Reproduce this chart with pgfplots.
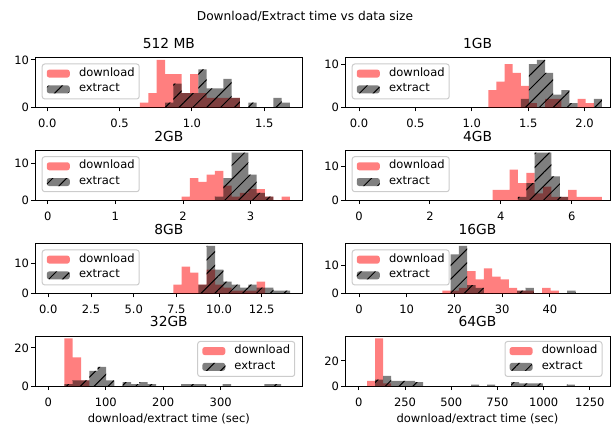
\documentclass[border=0pt]{standalone}
\usepackage{fontspec}
\setmainfont{DejaVu Sans}
\usepackage{pgfplots}
\pgfplotsset{compat=1.18}
\usetikzlibrary{patterns.meta}
\pgfplotsset{
 histleg/.style={legend image code/.code={\path[##1] (0pt,-4pt) rectangle (23pt,4pt);}},
 dl/.style={ybar interval, draw=none, fill=red, fill opacity=0.5, histleg},
 ex/.style={ybar interval, draw=none, fill=black, fill opacity=0.5,
   postaction={pattern={Lines[angle=45,distance=9.8pt,line width=1pt]}, pattern color=black, fill opacity=1}, histleg},
 hist/.style={anchor=south west, scale only axis, height=50pt, ymin=0,
   tick pos=left, tick align=outside, major tick length=4pt,
   tick style={black, line width=0.9pt}, axis line style={line width=0.9pt},
   ticklabel style={font=\fontsize{11.5}{13.8}\selectfont},
   xticklabel style={yshift=-4pt}, yticklabel style={xshift=1.5pt},
   title style={font=\fontsize{13.8}{16}\selectfont, at={(0.5,1)}, anchor=base, yshift=3pt},
   legend cell align=left,
   legend style={draw=black!20, line width=1pt, rounded corners=2.5pt, fill=white, fill opacity=0.8, text opacity=1, draw opacity=1,
     font=\fontsize{11.5}{13.8}\selectfont, inner xsep=4.6pt, inner ysep=4.6pt, row sep=5.75pt, column sep=9.2pt,
     nodes={inner sep=0pt, text height=0.75em, text depth=0.25em}},
   xlabel style={font=\fontsize{11.5}{13.8}\selectfont, yshift=-0.5pt}},
 lul/.style={legend style={at={(0,1)}, anchor=north west, xshift=6.7pt, yshift=-6pt}},
 lur/.style={legend style={at={(1,1)}, anchor=north east, xshift=-7.5pt, yshift=-5pt}},
}
\begin{document}
\begin{tikzpicture}
\useasboundingbox (0,0) rectangle (612pt,425pt);
\node[font=\fontsize{12.2}{14}\selectfont, anchor=base] at (305pt,404pt) {Download/Extract time vs data size};

% 512 MB
\begin{axis}[hist, lul, at={(35pt,317.5pt)}, width=267.7pt, title={512 MB},
  xmin=-0.085, xmax=1.766, ymax=10.5, xtick={0,0.5,1,1.5}, xticklabels={0.0,0.5,1.0,1.5},
  ytick={0,10}, yticklabels={0,10}]
\addplot[dl] coordinates {(0.641,1)(0.699,3)(0.756,10)(0.814,7)(0.871,7)(0.929,3)(0.987,7)(1.044,3)(1.102,2)(1.159,2)(1.217,2)(1.275,2)(1.332,0)};
\addplot[ex] coordinates {(0.814,1)(0.871,5)(0.929,3)(0.987,3)(1.044,8)(1.102,4)(1.159,4)(1.217,6)(1.275,2)(1.332,0)(1.390,1)(1.447,0)(1.505,0)(1.563,2)(1.620,1)(1.678,0)};
\legend{download,extract}
\end{axis}

% 1GB
\begin{axis}[hist, lul, at={(345pt,317.5pt)}, width=265pt, title={1GB},
  xmin=-0.124, xmax=2.225, ymax=11.55, xtick={0,0.5,1,1.5,2}, xticklabels={0.0,0.5,1.0,1.5,2.0},
  ytick={0,10}, yticklabels={0,10}]
\addplot[dl] coordinates {(1.146,4)(1.218,6)(1.290,10)(1.362,8)(1.434,5)(1.506,1)(1.577,0)(1.649,2)(1.721,2)(1.793,0)(1.865,0)(1.937,2)(2.009,1)(2.081,0)};
\addplot[ex] coordinates {(1.434,2)(1.506,10)(1.577,11)(1.649,8)(1.721,3)(1.793,4)(1.865,1)(1.937,0)(2.009,0)(2.081,2)(2.153,0)};
\legend{download,extract}
\end{axis}

% 2GB
\begin{axis}[hist, lul, at={(35pt,224.8pt)}, width=267.7pt, title={2GB},
  xmin=-0.188, xmax=3.77, ymax=13.65, xtick={0,1,2,3}, xticklabels={0,1,2,3},
  ytick={0,10}, yticklabels={0,10}]
\addplot[dl] coordinates {(1.980,1)(2.103,6)(2.226,5)(2.350,7)(2.473,8)(2.596,4)(2.719,1)(2.842,2)(2.966,3)(3.089,3)(3.212,1)(3.335,0)(3.458,1)(3.582,0)};
\addplot[ex] coordinates {(2.473,1)(2.596,6)(2.719,13)(2.842,13)(2.966,7)(3.089,2)(3.212,1)(3.335,0)};
\legend{download,extract}
\end{axis}

% 4GB
\begin{axis}[hist, lul, at={(345pt,224.8pt)}, width=265pt, title={4GB},
  xmin=-0.395, xmax=7.08, ymax=14.7, xtick={0,2,4,6}, xticklabels={0,2,4,6},
  ytick={0,10}, yticklabels={0,10}]
\addplot[dl] coordinates {(3.772,3)(4.009,3)(4.245,9)(4.482,5)(4.718,8)(4.955,2)(5.192,4)(5.428,1)(5.665,1)(5.902,3)(6.138,1)(6.375,1)(6.611,1)(6.848,0)};
\addplot[ex] coordinates {(4.482,1)(4.718,5)(4.955,14)(5.192,14)(5.428,7)(5.665,1)(5.902,0)};
\legend{download,extract}
\end{axis}

% 8GB
\begin{axis}[hist, lul, at={(35pt,131.5pt)}, width=267.7pt, title={8GB},
  xmin=-0.78, xmax=14.9, ymax=16.8, xtick={0,2.5,5,7.5,10,12.5}, xticklabels={0.0,2.5,5.0,7.5,10.0,12.5},
  ytick={0,10}, yticklabels={0,10}]
\addplot[dl] coordinates {(7.324,3)(7.812,9)(8.300,7)(8.788,3)(9.276,8)(9.764,3)(10.252,2)(10.740,1)(11.228,1)(11.716,1)(12.204,4)(12.692,0)};
\addplot[ex] coordinates {(8.788,3)(9.276,16)(9.764,8)(10.252,4)(10.740,3)(11.228,2)(11.716,3)(12.204,2)(12.692,2)(13.180,1)(13.668,1)(14.156,0)};
\legend{download,extract}
\end{axis}

% 16GB
\begin{axis}[hist, lul, at={(345pt,131.5pt)}, width=265pt, title={16GB},
  xmin=-2.93, xmax=52.6, ymax=17.85, xtick={0,10,20,30,40}, xticklabels={0,10,20,30,40},
  ytick={0,10}, yticklabels={0,10}]
\addplot[dl] coordinates {(17.45,1)(19.19,1)(20.94,2)(22.68,8)(24.43,5)(26.17,9)(27.92,6)(29.66,5)(31.41,2)(33.15,1)(34.90,1)(36.64,0)(38.39,2)(40.13,1)(41.88,0)};
\addplot[ex] coordinates {(19.19,14)(20.94,17)(22.68,3)(24.43,2)(26.17,0)(27.92,0)(29.66,0)(31.41,0)(33.15,1)(34.90,2)(36.64,0)(38.39,0)(40.13,0)(41.88,0)(43.62,1)(45.37,0)};
\legend{download,extract}
\end{axis}

% 32GB
\begin{axis}[hist, lur, at={(35pt,39pt)}, width=267.7pt, title={32GB},
  xmin=-23.2, xmax=442.8, ymax=26.25, xtick={0,100,200,300}, xticklabels={0,100,200,300},
  ytick={0,20}, yticklabels={0,20}, xlabel={download/extract time (sec)}]
\addplot[dl] coordinates {(27.86,25)(42.37,15)(56.88,3)(71.39,0)};
\addplot[ex] coordinates {(27.86,1)(42.37,3)(56.88,3)(71.39,8)(85.90,10)(100.41,3)(114.92,0)(129.43,2)(143.94,1)(158.45,2)(172.96,1)(187.47,0)(201.98,0)(216.49,0)(231.00,1)(245.51,1)(260.02,1)(274.53,0)(289.04,0)(303.55,1)(318.06,0)(332.57,0)(347.08,0)(361.59,0)(376.10,1)(390.61,1)(405.12,0)};
\legend{download,extract}
\end{axis}

% 64GB
\begin{axis}[hist, lur, at={(345pt,39pt)}, width=265pt, title={64GB},
  xmin=-75, xmax=1359, ymax=39.9, xtick={0,250,500,750,1000,1250}, xticklabels={0,250,500,750,1000,1250},
  ytick={0,20}, yticklabels={0,20}, xlabel={download/extract time (sec)}]
\addplot[dl] coordinates {(44.8,4)(88.05,38)(131.3,2)(174.55,0)};
\addplot[ex] coordinates {(88.05,5)(131.3,8)(174.55,4)(217.8,4)(261.05,4)(304.3,3)(347.55,0)(390.8,0)(434.05,0)(477.3,0)(520.55,0)(563.8,0)(607.05,1)(650.3,0)(693.55,1)(736.8,0)(780.05,0)(823.3,3)(866.55,2)(909.8,2)(953.05,2)(996.3,0)(1039.55,0)(1082.8,0)(1126.05,1)(1169.3,0)};
\legend{download,extract}
\end{axis}
\end{tikzpicture}
\end{document}
